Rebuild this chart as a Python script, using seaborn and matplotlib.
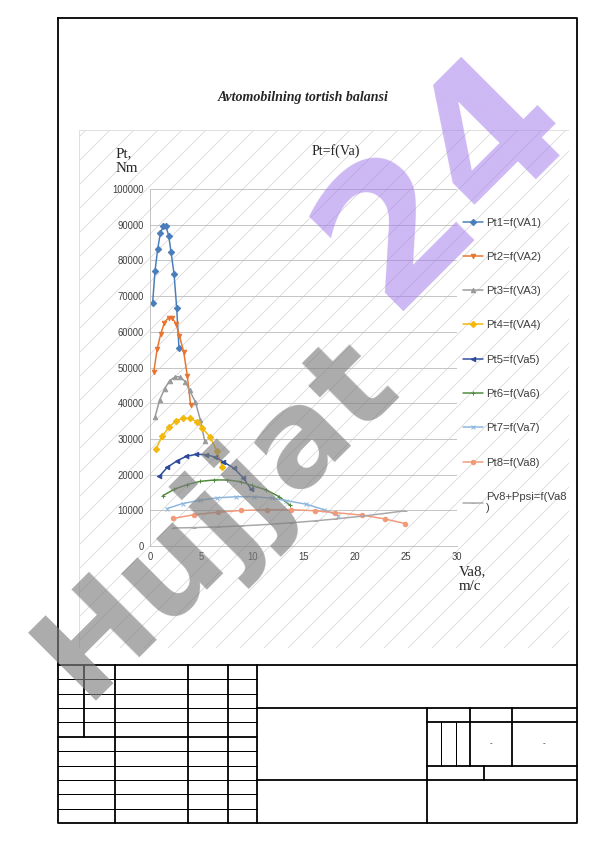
import numpy as np
import pandas as pd
import matplotlib
matplotlib.use("Agg")
import matplotlib.pyplot as plt
import seaborn as sns
from matplotlib.patches import Rectangle

# --- data (Va in m/s, Pt in N) ---
va1 = [0.26, 0.49, 0.75, 1.01, 1.30, 1.56, 1.83, 2.05, 2.35, 2.61, 2.83]
pt1 = [68200, 77100, 83200, 87600, 89600, 89500, 86900, 82400, 76200, 66600, 55400]
va2 = [0.37, 0.69, 1.05, 1.41, 1.82, 2.18, 2.56, 2.87, 3.29, 3.65, 3.96]
pt2 = [48700, 55100, 59400, 62600, 64000, 63900, 62100, 58900, 54400, 47600, 39600]
va3 = [0.49, 0.93, 1.42, 1.91, 2.46, 2.95, 3.46, 3.87, 4.44, 4.93, 5.35]
pt3 = [36100, 40800, 44000, 46300, 47400, 47400, 46000, 43600, 40300, 35200, 29300]
va4 = [0.60, 1.20, 1.86, 2.51, 3.24, 3.90, 4.58, 5.13, 5.88, 6.53, 7.08]
pt4 = [27300, 30800, 33300, 35000, 35800, 35800, 34800, 33000, 30500, 26600, 22200]
va5 = [0.91, 1.71, 2.62, 3.52, 4.54, 5.44, 6.39, 7.15, 8.20, 9.11, 9.88]
pt5 = [19500, 22100, 23800, 25100, 25700, 25600, 24900, 23600, 21800, 19100, 15900]
va6 = [1.26, 2.37, 3.63, 4.89, 6.29, 7.55, 8.86, 9.92, 11.37, 12.63, 13.70]
pt6 = [14100, 15900, 17200, 18100, 18500, 18500, 18000, 17000, 15700, 13800, 11400]
va7 = [1.69, 3.19, 4.88, 6.57, 8.45, 10.14, 11.90, 13.33, 15.28, 16.97, 18.40]
pt7 = [10500, 11900, 12800, 13500, 13800, 13800, 13400, 12700, 11700, 10200, 8500]
va8 = [2.29, 4.31, 6.60, 8.89, 11.44, 13.73, 16.10, 18.04, 20.68, 22.97, 24.90]
pt8 = [7750, 8760, 9450, 9950, 10180, 10170, 9880, 9360, 8660, 7570, 6300]
pres = [5040, 5150, 5340, 5620, 6030, 6480, 7030, 7550, 8350, 9140, 9860]

labels = ["Pt1=f(VA1)", "Pt2=f(VA2)", "Pt3=f(VA3)", "Pt4=f(VA4)", "Pt5=f(Va5)",
          "Pt6=f(Va6)", "Pt7=f(Va7)", "Pt8=f(Va8)", "Pv8+Ppsi=f(Va8\n)"]
xticks = [0, 5, 10, 15, 20, 25, 30]
yticks = [0, 10000, 20000, 30000, 40000, 50000, 60000, 70000, 80000, 90000, 100000]

series = [(va1, pt1), (va2, pt2), (va3, pt3), (va4, pt4), (va5, pt5),
          (va6, pt6), (va7, pt7), (va8, pt8), (va8, pres)]
colors = ["#4A7EBB", "#E8752F", "#9A9A9A", "#F2B80C", "#2C4A9A",
          "#4E8A3A", "#8DB6DE", "#F19A7A", "#A8A8A8"]
markers = ["D", "v", "^", "D", "<", "+", "x", "o", "_"]

W, H = 596, 842
sns.set_theme(style="white")
plt.rcParams['font.family'] = ['Liberation Sans', 'DejaVu Sans']
plt.rcParams['hatch.linewidth'] = 0.8

fig = plt.figure(figsize=(W / 72, H / 72), dpi=72)


def fx(px):
    return px / W


def fy(py):
    return 1 - py / H


# hatched chart area
bg = fig.add_axes([fx(78.6), fy(648), fx(568.8) - fx(78.6), fy(130) - fy(648)])
bg.add_patch(Rectangle((0, 0), 1, 1, transform=bg.transAxes, facecolor="white",
                       edgecolor="#D9D9D9", hatch="/", lw=0.8))
bg.axis("off")

ax = fig.add_axes([fx(150), fy(546), fx(457) - fx(150), fy(189) - fy(546)])
ax.patch.set_alpha(0)
for (xs, ys), c, m, lab in zip(series, colors, markers, labels):
    sns.lineplot(x=xs, y=ys, ax=ax, color=c, marker=m, markersize=4.5,
                 markeredgecolor=c, markeredgewidth=1, lw=1.5, label=lab)

ax.set_xlim(0, 30)
ax.set_ylim(0, 100000)
ax.set_xticks(xticks)
ax.set_yticks(yticks)
ax.set_xticklabels([str(t) for t in xticks])
ax.set_yticklabels([str(t) for t in yticks])
ax.grid(axis="y", color="#BFBFBF", lw=0.9)
ax.set_axisbelow(True)
for s in ["top", "right"]:
    ax.spines[s].set_visible(False)
for s in ["left", "bottom"]:
    ax.spines[s].set_color("#BFBFBF")
    ax.spines[s].set_linewidth(0.9)
ax.tick_params(length=0, labelsize=9.5, labelcolor="#404040", pad=6)
ax.set_xlabel("")
ax.set_ylabel("")

ax.legend(loc="upper left", bbox_to_anchor=(fx(458), fy(213)),
          bbox_transform=fig.transFigure, frameon=False, fontsize=11.3,
          labelspacing=2.15, handlelength=1.8, handletextpad=0.3,
          borderaxespad=0, labelcolor="#404040")

# overlay in page pixels
ov = fig.add_axes([0, 0, 1, 1])
ov.set_xlim(0, W)
ov.set_ylim(H, 0)
ov.axis("off")
ov.patch.set_alpha(0)

serif = ['Liberation Serif', 'DejaVu Serif']
ov.text(303, 98, "Avtomobilning tortish balansi", family=serif, fontsize=14,
        fontweight="bold", style="italic", ha="center", va="center")
ov.text(336, 151, "Pt=f(Va)", family=serif, fontsize=14, ha="center", va="center")
ov.text(116, 161, "Pt,\nNm", family=serif, fontsize=15, ha="left", va="center",
        linespacing=1.25)
ov.text(459, 579, "Va8,\nm/c", family=serif, fontsize=15, ha="left", va="center",
        linespacing=1.25)

# drawing frame
L, R, T, B = 58, 577, 18, 823
ov.plot([L, R, R, L, L], [T, T, B, B, T], color="black", lw=1.8)
thick = 1.8
thin = 1.0
ov.plot([L, R], [665, 665], color="black", lw=thick)
# left block
for yy in [679.3, 693.8, 708.3, 721.9, 751.3, 765.5, 780, 794.2, 808.7]:
    ov.plot([L, 256.8], [yy, yy], color="black", lw=thin)
ov.plot([L, 256.8], [737.1, 737.1], color="black", lw=thick)
ov.plot([84.4, 84.4], [665, 737.1], color="black", lw=thick)
for xx in [114.8, 187.9, 228.4]:
    ov.plot([xx, xx], [665, B], color="black", lw=thick)
ov.plot([256.8, 256.8], [665, B], color="black", lw=thick)
# right block
ov.plot([256.8, R], [708, 708], color="black", lw=thick)
ov.plot([256.8, R], [780, 780], color="black", lw=thick)
ov.plot([426.9, 426.9], [708, B], color="black", lw=thick)
ov.plot([426.9, R], [721.9, 721.9], color="black", lw=thick)
ov.plot([426.9, R], [765.5, 765.5], color="black", lw=thick)
ov.plot([470.1, 470.1], [708, 765.5], color="black", lw=thick)
ov.plot([512.1, 512.1], [708, 765.5], color="black", lw=thick)
ov.plot([441.1, 441.1], [721.9, 765.5], color="black", lw=thin)
ov.plot([455.6, 455.6], [721.9, 765.5], color="black", lw=thin)
ov.plot([483.7, 483.7], [765.5, 780], color="black", lw=thick)
ov.text(491, 744, "-", fontsize=8, ha="center", va="center")
ov.text(544, 744, "-", fontsize=8, ha="center", va="center")

# watermark
ov.text(84, 700, "Hujjat", rotation=45, rotation_mode="anchor", ha="left",
        va="baseline", fontsize=132, fontweight="bold", color="#7F7F7F",
        alpha=0.65, family="DejaVu Sans", zorder=10)
ov.text(445, 180, "24", rotation=45, rotation_mode="anchor", ha="center",
        va="center", fontsize=190, fontweight="bold", color="#A47EEB",
        alpha=0.55, family="DejaVu Sans", zorder=10)

fig.savefig("out.png", dpi=72)
